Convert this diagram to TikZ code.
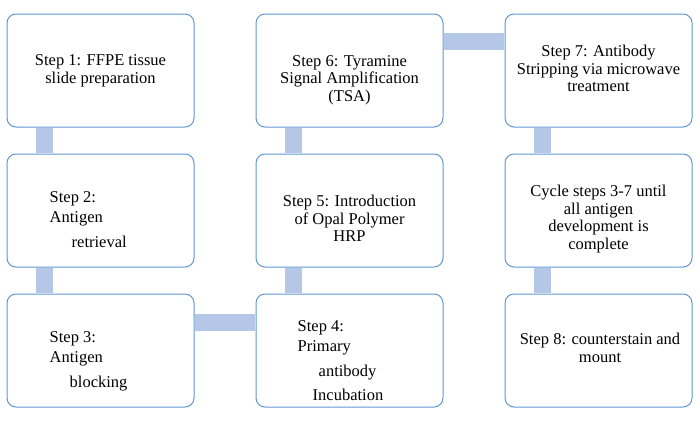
\documentclass[tikz,border=0pt]{standalone}
\usepackage{fontspec}
\setmainfont{Liberation Serif}
\newfontfamily\boxfont{Liberation Serif}
\usetikzlibrary{positioning}

\definecolor{boxline}{RGB}{95,150,210}
\definecolor{barblue}{RGB}{180,199,231}

\begin{document}
\begin{tikzpicture}[x=1pt,y=-1pt,
      stepbox/.style={rectangle,rounded corners=9pt,draw=boxline,line width=1pt,
        minimum width=187pt,minimum height=113pt,inner sep=0pt},
      txt/.style={inner sep=0pt,align=center,font=\boxfont\fontsize{16.5}{17.5}\selectfont},
      ltxt/.style={inner sep=0pt,align=left,font=\boxfont\fontsize{16.5}{17.5}\selectfont},
      bar/.style={barblue,line width=17pt,shorten <=0.6pt,shorten >=0.6pt}
      ]
      \useasboundingbox (0,0) rectangle (700,421);
      % boxes
      \node (s1)  [stepbox] at (100.5,70.5)  {};
      \node (s2)  [stepbox] at (100.5,210.5) {};
      \node (s3)  [stepbox] at (100.5,350.5) {};
      \node (s6)  [stepbox] at (349.5,70.5)  {};
      \node (s5)  [stepbox] at (349.5,210.5) {};
      \node (s4)  [stepbox] at (349.5,350.5) {};
      \node (s7)  [stepbox] at (598.5,70.5)  {};
      \node (cyc) [stepbox] at (598.5,210.5) {};
      \node (s8)  [stepbox] at (598.5,350.5) {};
      % texts
      \node (t1) [txt, below=41pt of s1.north] {Step 1: FFPE tissue\\slide preparation};
      \node (t2) [ltxt, below right=37.5pt and 43pt of s2.north west] {Step 2:\\[2.5pt]Antigen\\[7.5pt]\hspace*{22pt}retrieval};
      \node (t3) [ltxt, below right=37.5pt and 43pt of s3.north west] {Step 3:\\[2.5pt]Antigen\\[7.5pt]\hspace*{20pt}blocking};
      \node (t4) [ltxt, below right=26.5pt and 42pt of s4.north west] {Step 4:\\[2.5pt]Primary\\[7.5pt]\hspace*{21pt}antibody\\[6.5pt]\hspace*{15pt}Incubation};
      \node (t5) [txt, below=41.5pt of s5.north] {Step 5: Introduction\\of Opal Polymer\\HRP};
      \node (t6) [txt, below=41.5pt of s6.north] {Step 6: Tyramine\\Signal Amplification\\(TSA)};
      \node (t7) [txt, below=31.5pt of s7.north] {Step 7: Antibody\\Stripping via microwave\\treatment};
      \node (tc) [txt, below=31.5pt of cyc.north] {Cycle steps 3-7 until\\all antigen\\development is\\complete};
      \node (t8) [txt, below=39.5pt of s8.north, xshift=1.5pt] {Step 8: counterstain and\\mount};
      % connectors
      \draw[bar] ([xshift=-56pt]s1.south) -- ([xshift=-56pt]s2.north);
      \draw[bar] ([xshift=-56pt]s2.south) -- ([xshift=-56pt]s3.north);
      \draw[bar] ([yshift=28.5pt]s3.east) -- ([yshift=28.5pt]s4.west);
      \draw[bar] ([xshift=-56pt]s4.north) -- ([xshift=-56pt]s5.south);
      \draw[bar] ([xshift=-56pt]s5.north) -- ([xshift=-56pt]s6.south);
      \draw[bar] ([yshift=29pt]s6.east) -- ([yshift=29pt]s7.west);
      \draw[bar] ([xshift=-56pt]s7.south) -- ([xshift=-56pt]cyc.north);
      \draw[bar] ([xshift=-56pt]cyc.south) -- ([xshift=-56pt]s8.north);
\end{tikzpicture}
\end{document}
